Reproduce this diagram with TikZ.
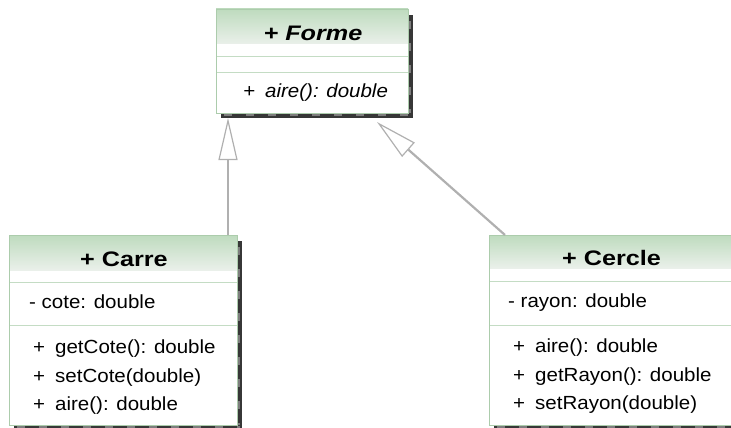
\documentclass[tikz,border=0pt]{standalone}
\usepackage{fontspec}
\setmainfont{Liberation Sans}
\newfontfamily\memfont[FakeStretch=1.08]{Liberation Sans}
\newfontfamily\hdfont[FakeStretch=1.2]{Liberation Sans}
\usetikzlibrary{arrows.meta}
\definecolor{hdtop}{RGB}{190,219,190}
\definecolor{hdbot}{RGB}{234,240,234}
\definecolor{bord}{RGB}{172,204,172}
\definecolor{divc}{RGB}{196,220,196}
\definecolor{conn}{RGB}{176,176,176}
\definecolor{shad}{RGB}{55,55,55}
\definecolor{shadl}{RGB}{125,125,125}
\newcommand\clsshadow[4]{%
  \fill[shad] (#1+5,#2+6) rectangle (#3+5,#4+5);
  \draw[shadl, line width=2.5pt, dash pattern=on 8pt off 14pt] (#1+8,#4+2) -- (#3+3,#4+2);
  \draw[shadl, line width=2.5pt, dash pattern=on 8pt off 14pt] (#3+2,#2+12) -- (#3+2,#4);
}
\begin{document}
\begin{tikzpicture}[x=1pt,y=-1pt,
  hdtext/.style={anchor=base, inner sep=0pt, font=\hdfont\bfseries\fontsize{21}{24}\selectfont},
  memtext/.style={anchor=base west, inner sep=0pt, font=\memfont\fontsize{19}{22}\selectfont},
  classbox/.style={draw=bord, line width=1pt, anchor=north west, inner sep=0pt},
  divline/.style={draw=divc, line width=1pt},
  inherit/.style={draw=conn, line width=2.2pt, -{Triangle[open, length=42pt, width=19pt, line width=1.2pt, fill=white]}}
]
\useasboundingbox (0,0) rectangle (731,428);
\clip (0,0) rectangle (731,428);

% ---- Forme ----
\clsshadow{216}{9}{408}{113}
\fill[white] (216,9) rectangle (408,113);
\shade[top color=hdtop, bottom color=hdbot] (216,9) rectangle (408,44);
\draw[divline] (216,57) -- (408,57);
\draw[divline] (216,73) -- (408,73);
\node[classbox, minimum width=192pt, minimum height=104pt] (forme) at (216,9) {};
\node[hdtext] (formeT) at (313,41) {\itshape + Forme};
\node[memtext] (formeO1) at (243,98) {\itshape +\hspace{10pt}aire(): double};

% ---- Carre ----
\clsshadow{9}{235}{237}{425}
\fill[white] (9,235) rectangle (237,425);
\shade[top color=hdtop, bottom color=hdbot] (9,235) rectangle (237,270);
\draw[divline] (9,282) -- (237,282);
\draw[divline] (9,325) -- (237,325);
\node[classbox, minimum width=228pt, minimum height=190pt] (carre) at (9,235) {};
\node[hdtext] (carreT) at (124,266.5) {+ Carre};
\node[memtext] (carreA1) at (29,308) {- cote: double};
\node[memtext] (carreO1) at (33,353.5) {+\hspace{10pt}getCote(): double};
\node[memtext] (carreO2) at (33,382) {+\hspace{10pt}setCote(double)};
\node[memtext] (carreO3) at (33,410.5) {+\hspace{10pt}aire(): double};

% ---- Cercle ----
\clsshadow{489}{235}{734}{425}
\fill[white] (489,235) rectangle (734,425);
\shade[top color=hdtop, bottom color=hdbot] (489,235) rectangle (734,268);
\draw[divline] (489,281) -- (734,281);
\draw[divline] (489,325) -- (734,325);
\node[classbox, minimum width=245pt, minimum height=190pt] (cercle) at (489,235) {};
\node[hdtext] (cercleT) at (611.5,265.7) {+ Cercle};
\node[memtext] (cercleA1) at (508,307.7) {- rayon: double};
\node[memtext] (cercleO1) at (513,352.7) {+\hspace{10pt}aire(): double};
\node[memtext] (cercleO2) at (513,381) {+\hspace{10pt}getRayon(): double};
\node[memtext] (cercleO3) at (513,409.5) {+\hspace{10pt}setRayon(double)};

% ---- Generalisations ----
\coordinate (tipL) at (228,118);
\coordinate (tipR) at (377,122);
\coordinate (startR) at (505,235);
\draw[inherit] (tipL |- carre.north) -- (tipL);
\draw[inherit] (startR) -- (tipR);
\end{tikzpicture}
\end{document}
